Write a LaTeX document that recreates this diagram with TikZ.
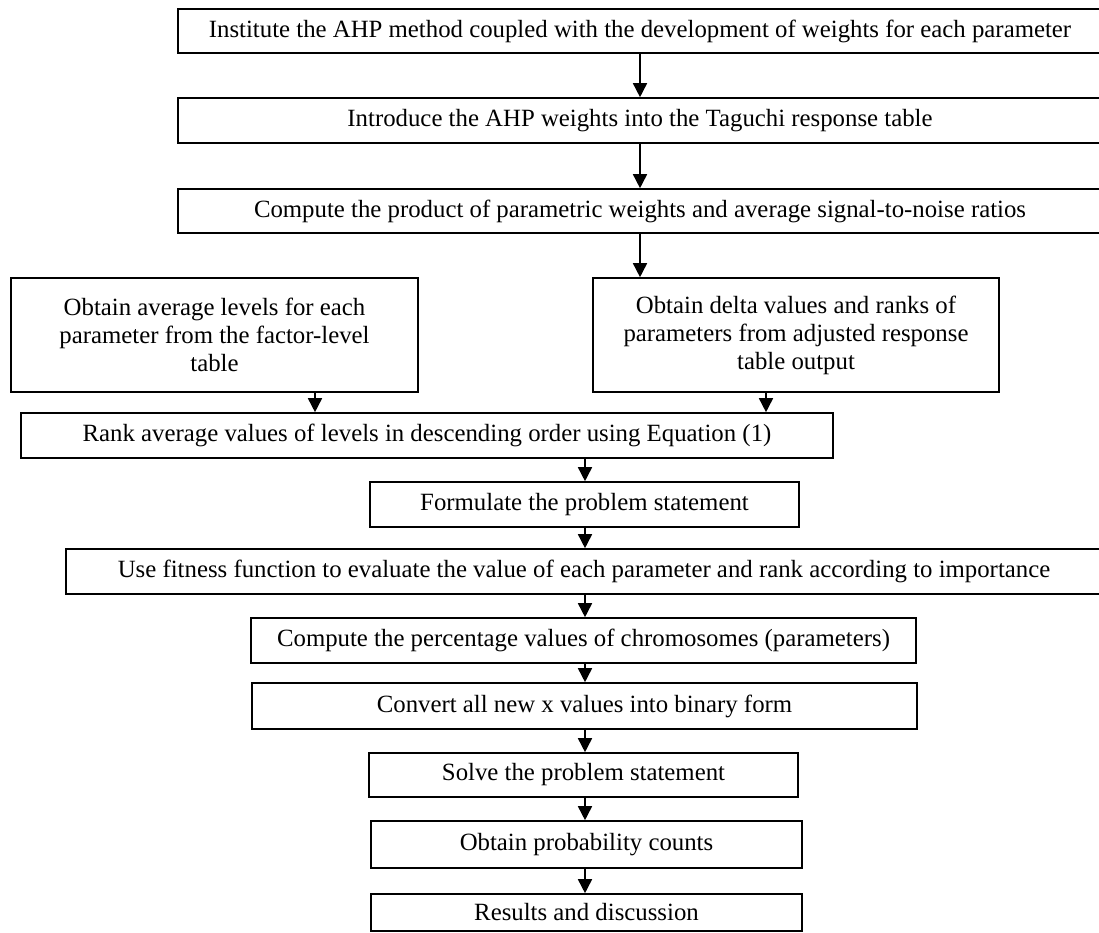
\documentclass[tikz,border=0pt]{standalone}
\usepackage{fontspec}
\setmainfont{Liberation Serif}
\usetikzlibrary{arrows.meta}
\begin{document}
\begin{tikzpicture}[x=1pt,y=-1pt,
  box/.style={draw=black,line width=1.6pt,inner sep=0pt,anchor=center,
    font=\fontsize{24.8}{28}\selectfont,align=center},
  arr/.style={line width=1.6pt,-{Triangle[length=14pt,width=14pt]}}]
\useasboundingbox (0,0) rectangle (1099,933);
\clip (0,0) rectangle (1099,933);
\fill[white] (0,0) rectangle (1099,933);
\coordinate (tx) at (640,0);
\coordinate (ax) at (585,0);
\node[box,minimum width=924pt,minimum height=44pt] (B1) at (640,31) {Institute the AHP method coupled with the development of weights for each parameter};
\node[box,minimum width=924pt,minimum height=45pt] (B2) at (640,120.5) {Introduce the AHP weights into the Taguchi response table};
\node[box,minimum width=924pt,minimum height=44pt] (B3) at (640,211) {Compute the product of parametric weights and average signal-to-noise ratios};
\node[box,minimum width=407pt,minimum height=114pt] (L) at (214.5,335) {Obtain average levels for each\\parameter from the factor-level\\table};
\node[box,minimum width=406pt,minimum height=114pt] (R) at (796,335) {Obtain delta values and ranks of\\parameters from adjusted response\\table output};
\node[box,minimum width=812pt,minimum height=45pt] (B5) at (427,435.5) {Rank average values of levels in descending order using Equation (1)};
\node[box,minimum width=429pt,minimum height=45pt] (B6) at (584.5,504.5) {Formulate the problem statement};
\node[box,minimum width=1036pt,minimum height=45pt] (B7) at (584,571.5) {Use fitness function to evaluate the value of each parameter and rank according to importance};
\node[box,minimum width=665pt,minimum height=45pt] (B8) at (583.5,640.5) {Compute the percentage values of chromosomes (parameters)};
\node[box,minimum width=665pt,minimum height=46pt] (B9) at (584.5,706) {Convert all new x values into binary form};
\node[box,minimum width=429pt,minimum height=44pt] (B10) at (583.5,775) {Solve the problem statement};
\node[box,minimum width=431pt,minimum height=47pt] (B11) at (586.5,844.5) {Obtain probability counts};
\node[box,minimum width=431pt,minimum height=37pt] (B12) at (586.5,912.5) {Results and discussion};
\draw[arr] (B1.south -| tx) -- (B2.north -| tx);
\draw[arr] (B2.south -| tx) -- (B3.north -| tx);
\draw[arr] (B3.south -| tx) -- (R.north -| tx);
\draw[arr] ([xshift=100.5pt]L.south) -- ([xshift=100.5pt]L.south |- B5.north);
\draw[arr] ([xshift=-30pt]R.south) -- ([xshift=-30pt]R.south |- B5.north);
\draw[arr] (B5.south -| ax) -- (B6.north -| ax);
\draw[arr] (B6.south -| ax) -- (B7.north -| ax);
\draw[arr] (B7.south -| ax) -- (B8.north -| ax);
\draw[arr] (B8.south -| ax) -- (B9.north -| ax);
\draw[arr] (B9.south -| ax) -- (B10.north -| ax);
\draw[arr] (B10.south -| ax) -- (B11.north -| ax);
\draw[arr] (B11.south -| ax) -- (B12.north -| ax);
\end{tikzpicture}
\end{document}
